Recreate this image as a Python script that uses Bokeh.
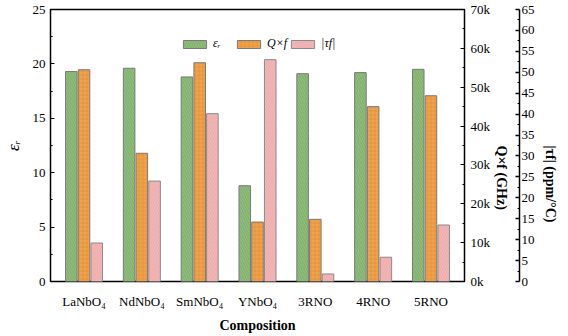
import math
from bokeh.plotting import figure
from bokeh.models import Range1d, LinearAxis, FixedTicker, Legend, LegendItem, ColumnDataSource, CustomJSTickFormatter
from bokeh.embed import file_html
from bokeh.resources import INLINE

categories = ["LaNbO₄", "NdNbO₄", "SmNbO₄", "YNbO₄", "3RNO", "4RNO", "5RNO"]
eps_r = [19.3, 19.6, 18.8, 8.8, 19.1, 19.2, 19.5]
qf = [54500, 33000, 56300, 15300, 16000, 45000, 47800]
tau_f = [9.2, 24.0, 40.1, 53.0, 1.8, 5.8, 13.5]

FONT = "Liberation Serif"
xs = list(range(len(categories)))
src = ColumnDataSource(dict(
    x_e=[x - 0.22 for x in xs], x_q=[x for x in xs], x_t=[x + 0.22 for x in xs],
    eps=eps_r, qf=qf, tau=tau_f))

p = figure(width=560, height=328, frame_width=414, frame_height=272,
           x_range=Range1d(-0.58, 6.58), y_range=Range1d(0, 25),
           output_backend="svg", toolbar_location=None,
           min_border_left=38, min_border_top=9, min_border_bottom=47, min_border_right=108)
p.extra_y_ranges = {"qf": Range1d(0, 70000), "tau": Range1d(0, 65)}
p.grid.visible = False
p.outline_line_color = "black"
p.outline_line_width = 1.5
p.background_fill_color = "white"
p.border_fill_color = "white"

W = 0.2
g = p.vbar(x="x_e", top="eps", width=W, source=src, fill_color="#8fbd7c",
           line_color="#7a7a7a", line_width=1,
           hatch_pattern="left_diagonal_line", hatch_color="#5f8f4e", hatch_scale=5,
           hatch_weight=0.6, hatch_alpha=0.6)
o = p.vbar(x="x_q", top="qf", width=W, source=src, y_range_name="qf", fill_color="#f0a24a",
           line_color="#7a7a7a", line_width=1,
           hatch_pattern="cross", hatch_color="#d07a20", hatch_scale=4,
           hatch_weight=0.5, hatch_alpha=0.6)
k = p.vbar(x="x_t", top="tau", width=W, source=src, y_range_name="tau", fill_color="#f2b6b6",
           line_color="#8a8a8a", line_width=1,
           hatch_pattern="right_diagonal_line", hatch_color="#e69a9a", hatch_scale=5,
           hatch_weight=0.6, hatch_alpha=0.7)

def style(ax):
    ax.axis_label_text_font = FONT
    ax.axis_label_text_color = "black"
    ax.major_label_text_font = FONT
    ax.major_label_text_color = "black"
    ax.major_label_text_font_size = "13px"
    ax.major_tick_line_color = "black"
    ax.minor_tick_line_color = "black"

# x axis
xa = p.xaxis[0]
style(xa)
xa.ticker = FixedTicker(ticks=xs)
xa.major_label_overrides = {i: c for i, c in enumerate(categories)}
xa.axis_label = "Composition"
xa.axis_label_text_font_style = "bold"
xa.axis_label_text_font_size = "14px"
xa.axis_label_standoff = 6
xa.major_tick_line_color = None
xa.minor_tick_line_color = None
xa.axis_line_color = None
xa.major_label_standoff = 6

# left axis
ya = p.yaxis[0]
style(ya)
ya.ticker = FixedTicker(ticks=[0, 5, 10, 15, 20, 25], minor_ticks=[2.5, 7.5, 12.5, 17.5, 22.5])
ya.axis_label = "εᵣ"
ya.axis_label_text_font_style = "italic"
ya.axis_label_text_font_size = "17px"
ya.major_tick_in = 4
ya.major_tick_out = 0
ya.minor_tick_in = 2
ya.minor_tick_out = 0
ya.axis_line_color = None
ya.axis_label_standoff = 7
ya.major_label_standoff = 5

# right axis Q*f
qa = LinearAxis(y_range_name="qf",
                ticker=FixedTicker(ticks=list(range(0, 70001, 10000)),
                                   minor_ticks=list(range(5000, 70000, 10000))),
                formatter=CustomJSTickFormatter(code="return (tick/1000).toFixed(0) + 'k';"))
style(qa)
qa.axis_label = "Q×f (GHz)"
qa.axis_label_text_font_style = "bold"
qa.axis_label_text_font_size = "14px"
qa.axis_label_orientation = -math.pi / 2
qa.major_tick_in = 4
qa.major_tick_out = 0
qa.minor_tick_in = 2
qa.minor_tick_out = 0
qa.axis_line_color = None
qa.axis_label_standoff = 8
qa.major_label_standoff = 6
p.add_layout(qa, "right")

# spacer between the two right axes
sp = LinearAxis(y_range_name="tau", ticker=FixedTicker(ticks=[]))
sp.axis_line_color = None
sp.major_tick_line_color = None
sp.minor_tick_line_color = None
sp.major_tick_in = 0
sp.major_tick_out = 11
sp.minor_tick_out = 0
sp.axis_label = None
sp.major_label_standoff = 0
p.add_layout(sp, "right")

# right axis tau
ta = LinearAxis(y_range_name="tau",
                ticker=FixedTicker(ticks=list(range(0, 66, 5)),
                                   minor_ticks=[x + 2.5 for x in range(0, 65, 5)]))
style(ta)
ta.axis_label = "|τf|  (ppm/°C)"
ta.axis_label_text_font_style = "bold"
ta.axis_label_text_font_size = "14px"
ta.axis_label_orientation = -math.pi / 2
ta.major_tick_in = 4
ta.major_tick_out = 0
ta.minor_tick_in = 2
ta.minor_tick_out = 0
ta.axis_line_color = "black"
ta.axis_line_width = 1.5
ta.major_tick_line_width = 1.5
ta.axis_label_standoff = 13
ta.major_label_standoff = 2
p.add_layout(ta, "right")

legend = Legend(items=[LegendItem(label="εᵣ", renderers=[g]),
                       LegendItem(label="Q×f", renderers=[o]),
                       LegendItem(label="|τf|", renderers=[k])],
                orientation="horizontal", location=(130, 230),
                label_text_font=FONT, label_text_font_style="italic",
                label_text_color="black",
                label_text_font_size="12px", glyph_width=29, glyph_height=10,
                spacing=1, padding=2, label_standoff=4,
                border_line_color=None, background_fill_alpha=0)
p.add_layout(legend, "center")

open("out.html", "w").write(file_html(p, INLINE))
